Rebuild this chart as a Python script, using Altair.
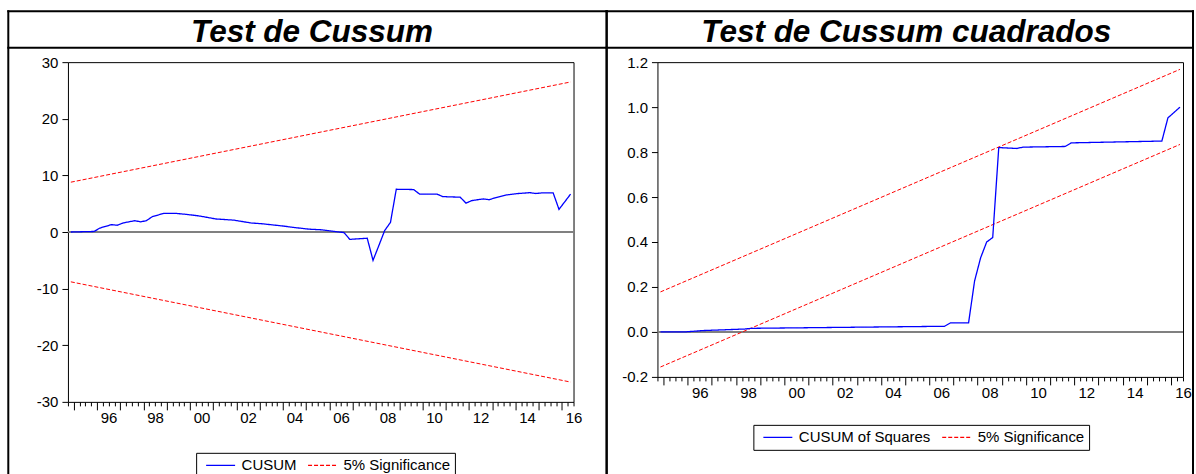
import altair as alt
import pandas as pd

FONT = "Liberation Sans"
SIG = "5% Significance"

# Quarterly observations, positioned at mid-quarter (year fraction)
CUSUM_T = [1994.875, 1995.875, 1996.125, 1996.625, 1996.875, 1997.125, 1997.625,
           1997.875, 1998.125, 1998.375, 1998.875, 1999.375, 1999.875, 2000.375,
           2001.125, 2001.875, 2002.625, 2003.125, 2004.125, 2004.375, 2005.125,
           2005.625, 2006.125, 2006.625, 2006.875, 2007.625, 2007.875, 2008.125,
           2008.375, 2008.625, 2008.875, 2009.625, 2009.875, 2010.625, 2010.875,
           2011.625, 2011.875, 2012.125, 2012.625, 2012.875, 2013.125, 2013.625,
           2014.125, 2014.625, 2014.875, 2015.125, 2015.625, 2015.875, 2016.375]
CUSUM_V = [0.0, 0.1, 0.7, 1.3, 1.2, 1.6, 2.0, 1.8, 2.0, 2.7, 3.3, 3.3, 3.1, 2.85,
           2.3, 2.1, 1.6, 1.45, 1.0, 0.85, 0.5, 0.4, 0.15, -0.1, -1.3, -1.1, -5.0,
           -2.4, 0.25, 1.7, 7.55, 7.5, 6.7, 6.7, 6.25, 6.15, 5.1, 5.55, 5.85, 5.7,
           6.05, 6.55, 6.8, 6.95, 6.8, 6.9, 6.9, 4.0, 6.7]

CUSUMSQ_T = [1994.875, 1995.875, 1996.625, 1998.375, 1998.625, 2005.625, 2006.625,
             2006.875, 2007.625, 2007.875, 2008.125, 2008.375, 2008.625, 2008.875,
             2009.625, 2009.875, 2011.625, 2011.875, 2015.625, 2015.875, 2016.375]
CUSUMSQ_V = [0.0, 0.0, 0.006, 0.013, 0.016, 0.024, 0.025, 0.04, 0.04, 0.227, 0.33,
             0.40, 0.42, 0.82, 0.816, 0.822, 0.825, 0.841, 0.849, 0.952, 1.0]

# 5% significance bands (straight lines between first and last observation)
BAND_T = [1994.875, 2016.375]
CUSUM_UPPER = [8.8, 26.5]
CUSUM_LOWER = [-8.8, -26.5]
CUSUMSQ_UPPER = [0.178, 1.168]
CUSUMSQ_LOWER = [-0.156, 0.834]

X_DOMAIN = [1994.75, 2016.5]
YEARS = list(range(1994, 2017))
QUARTER_TICKS = [y + q / 4 for y in YEARS for q in range(4)
                 if X_DOMAIN[0] <= y + q / 4 <= X_DOMAIN[1]]

CUSUM_TICKS = [-30, -20, -10, 0, 10, 20, 30]
CUSUMSQ_TICKS = [-0.2, 0.0, 0.2, 0.4, 0.6, 0.8, 1.0, 1.2]

TITLES = ["Test de Cussum", "Test de Cussum cuadrados"]


def panel(title, name, t, v, up, lo, ydom, yticks, ydigits, width, height,
          title_x, legend_x, legend_y, frame_x0, frame_x1):
    px_per_year = width / (X_DOMAIN[1] - X_DOMAIN[0])
    xscale = alt.Scale(domain=X_DOMAIN, nice=False, zero=False)
    yscale = alt.Scale(domain=ydom, nice=False, zero=False)
    xaxis = alt.Axis(
        values=QUARTER_TICKS, title=None, domain=False, grid=False,
        tickSize={"condition": {"test": "datum.value % 1 === 0", "value": 8}, "value": 4},
        labelExpr="datum.value % 2 === 0 ? substring(toString(datum.value), 2, 4) : ''",
        labelOffset=px_per_year / 2, labelPadding=1, labelFlush=False,
        labelOverlap=False, labelBound=False,
    )
    # plain hyphen for negative tick labels
    yaxis = alt.Axis(
        values=yticks, title=None, domain=False, grid=False, tickSize=6,
        labelPadding=4, labelFlush=False, labelOverlap=False,
        labelExpr=f"(datum.value < 0 ? '-' : '') + format(abs(datum.value), '.{ydigits}f')",
    )

    # legend line samples: a 29px horizontal stroke drawn from a custom path
    legend = alt.Legend(
        title=None, orient="none", legendX=legend_x, legendY=legend_y,
        direction="horizontal", columns=2, symbolType="M-2,0L2,0", symbolSize=210,
        symbolStrokeWidth=1.3, symbolOffset=12, labelFont=FONT, labelFontSize=15,
        labelColor="black", labelOffset=13, columnPadding=6, padding=4.5,
        strokeColor="black", fillColor="white", labelLimit=400,
    )
    color = alt.Color("series:N", legend=legend,
                      scale=alt.Scale(domain=[name, SIG], range=["#0000FF", "#FF0000"]))
    dash = alt.StrokeDash("series:N", legend=legend,
                          scale=alt.Scale(domain=[name, SIG], range=[[1, 0], [4, 2]]))

    zero = alt.Chart(pd.DataFrame({"v": [0]})).mark_rule(
        color="#808080", strokeWidth=2
    ).encode(y=alt.Y("v:Q", scale=yscale, axis=yaxis))

    band_df = pd.DataFrame({
        "t": BAND_T + BAND_T,
        "v": up + lo,
        "band": ["upper"] * len(BAND_T) + ["lower"] * len(BAND_T),
        "series": [SIG] * (2 * len(BAND_T)),
    })
    bands = alt.Chart(band_df).mark_line(strokeWidth=1).encode(
        x=alt.X("t:Q", scale=xscale, axis=xaxis),
        y=alt.Y("v:Q", scale=yscale, axis=yaxis),
        color=color, strokeDash=dash, detail="band:N",
    )

    line_df = pd.DataFrame({"t": t, "v": v, "series": [name] * len(t)})
    line = alt.Chart(line_df).mark_line(strokeWidth=1.3).encode(
        x=alt.X("t:Q", scale=xscale, axis=xaxis),
        y=alt.Y("v:Q", scale=yscale, axis=yaxis),
        color=color, strokeDash=dash,
    )

    one = pd.DataFrame({"title": [title]})
    top_y, sep_y, bottom_y = -51, -14.5, 430
    rule = dict(color="black", strokeWidth=2, strokeCap="square")
    frame = [
        alt.Chart(one).mark_rule(**rule).encode(
            x=alt.value(frame_x0), x2=alt.value(frame_x1), y=alt.value(top_y)),
        alt.Chart(one).mark_rule(**rule).encode(
            x=alt.value(frame_x0), x2=alt.value(frame_x1), y=alt.value(sep_y)),
        alt.Chart(one).mark_rule(**rule).encode(
            x=alt.value(frame_x0), y=alt.value(top_y), y2=alt.value(bottom_y)),
        alt.Chart(one).mark_rule(**rule).encode(
            x=alt.value(frame_x1), y=alt.value(top_y), y2=alt.value(bottom_y)),
    ]
    head = alt.Chart(one).mark_text(
        font=FONT, fontSize=31.5, fontWeight="bold", fontStyle="italic",
        color="black", align="center", baseline="alphabetic",
    ).encode(text="title:N", x=alt.value(title_x), y=alt.value(-20))

    return alt.layer(zero, bands, line, head, *frame).properties(
        width=width, height=height)


left = panel(TITLES[0], "CUSUM", CUSUM_T, CUSUM_V, CUSUM_UPPER, CUSUM_LOWER,
             [-30, 30], CUSUM_TICKS, 0, 506, 340,
             title_x=244.3, legend_x=128.3, legend_y=391,
             frame_x0=-59.7, frame_x1=539.3)
right = panel(TITLES[1], "CUSUM of Squares", CUSUMSQ_T, CUSUMSQ_V,
              CUSUMSQ_UPPER, CUSUMSQ_LOWER, [-0.2, 1.2], CUSUMSQ_TICKS, 1,
              526, 315, title_x=249, legend_x=96, legend_y=363,
              frame_x0=-51, frame_x1=536)

chart = alt.hconcat(left, right, spacing=84, bounds="flush").resolve_scale(
    x="independent", y="independent", color="independent", strokeDash="independent"
).properties(
    padding={"left": 6, "top": 9, "right": 0, "bottom": 0},
    background="white",
).configure_view(
    stroke="black", strokeWidth=1
).configure_axis(
    labelFont=FONT, labelFontSize=15, labelColor="black",
    tickColor="black", tickWidth=1,
)

chart.save("out.html", embed_options={"renderer": "svg", "actions": False})
